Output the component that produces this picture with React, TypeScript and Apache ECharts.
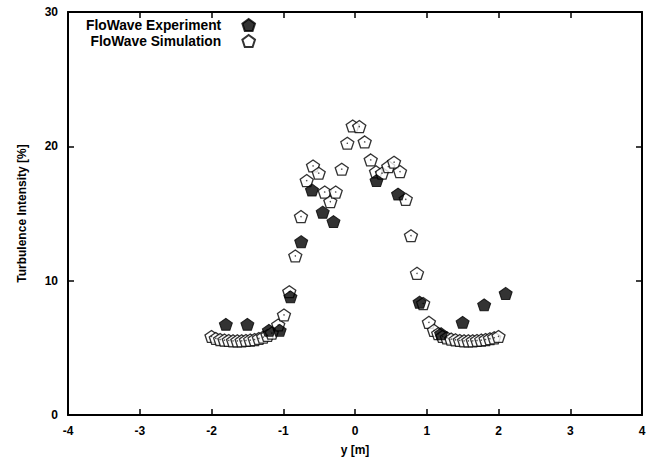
import React, { useEffect, useRef } from "react";
import * as echarts from "echarts";

const expX = [-1.8, -1.5, -1.2, -1.05, -0.9, -0.75, -0.6, -0.45, -0.3, 0.3, 0.6, 0.9, 1.2, 1.5, 1.8, 2.1];
const expY = [6.75, 6.75, 6.3, 6.3, 8.8, 12.9, 16.75, 15.1, 14.4, 17.45, 16.45, 8.4, 6.05, 6.9, 8.2, 9.05];

const simX = [
  -2.0, -1.94, -1.88, -1.82, -1.76, -1.7, -1.64, -1.58, -1.52, -1.46, -1.4, -1.34, -1.28, -1.22, -1.16,
  -1.07, -0.99, -0.916, -0.832, -0.753, -0.673, -0.585, -0.506, -0.422, -0.344, -0.269, -0.185, -0.107,
  -0.032, 0.06, 0.135, 0.219, 0.293, 0.376, 0.464, 0.544, 0.627, 0.707, 0.78, 0.864, 0.95, 1.03, 1.1,
  1.16, 1.22, 1.28, 1.34, 1.4, 1.46, 1.52, 1.58, 1.64, 1.7, 1.76, 1.82, 1.88, 1.94, 2.0,
];
const simY = [
  5.85, 5.7, 5.62, 5.58, 5.55, 5.52, 5.52, 5.52, 5.55, 5.58, 5.62, 5.7, 5.8, 5.92, 6.1,
  6.7, 7.45, 9.18, 11.84, 14.77, 17.45, 18.54, 18.0, 16.6, 15.88, 16.6, 18.3, 20.23,
  21.52, 21.47, 20.33, 18.99, 18.1, 18.0, 18.49, 18.82, 18.12, 16.06, 13.35, 10.55, 8.3, 6.9, 6.3,
  6.05, 5.85, 5.75, 5.65, 5.6, 5.55, 5.52, 5.52, 5.52, 5.55, 5.58, 5.62, 5.68, 5.75, 5.85,
];

const xTicks = { min: -4, max: 4, interval: 1 };
const yTicks = { min: 0, max: 30, interval: 10 };

const FONT = "'Liberation Sans', Arial, Helvetica, sans-serif";
const PENTA = "path://M10,0 L19.51,6.91 L15.88,18.09 L4.12,18.09 L0.49,6.91 Z";

export default function App() {
  const ref = useRef<HTMLDivElement>(null);
  useEffect(() => {
    if (!ref.current) return;
    const chart = echarts.init(ref.current, undefined, { renderer: "svg" });
    const expData = expX.map((x, i) => [x, expY[i]]);
    const simData = simX.map((x, i) => [x, simY[i]]);
    const axisLine = { show: true, onZero: false, lineStyle: { color: "#000", width: 2 } };
    const tick = { show: true, inside: true, length: 6, lineStyle: { color: "#000", width: 1.5 } };
    const label = { color: "#000", fontWeight: "bold" as const, fontSize: 12, fontFamily: FONT };
    const legendBase = {
      right: 398,
      orient: "vertical" as const,
      align: "right" as const,
      itemWidth: 13,
      itemHeight: 12,
      padding: 0,
      selectedMode: false,
      textStyle: { color: "#000", fontWeight: "bold" as const, fontSize: 13.8, fontFamily: FONT, padding: [0, 16, 0, 0] },
    };
    chart.setOption({
      animation: false,
      backgroundColor: "#fff",
      grid: { left: 68, right: 12, top: 12, bottom: 46, containLabel: false, outerBoundsMode: "none" },
      legend: [
        { ...legendBase, top: 18, data: ["FloWave Experiment"] },
        { ...legendBase, top: 34, data: ["FloWave Simulation"] },
      ],
      xAxis: [
        {
          type: "value", ...xTicks, position: "bottom",
          axisLine, axisTick: tick, splitLine: { show: false },
          axisLabel: { ...label, margin: 10 },
          name: "y [m]", nameLocation: "middle", nameGap: 29,
          nameTextStyle: { ...label },
        },
        {
          type: "value", ...xTicks, position: "top",
          axisLine, axisTick: tick, splitLine: { show: false }, axisLabel: { show: false },
        },
      ],
      yAxis: [
        {
          type: "value", ...yTicks, position: "left",
          axisLine, axisTick: tick, splitLine: { show: false },
          axisLabel: { ...label, margin: 10 },
          name: "Turbulence Intensity [%]", nameLocation: "middle", nameGap: 40,
          nameTextStyle: { ...label },
        },
        {
          type: "value", ...yTicks, position: "right",
          axisLine, axisTick: tick, splitLine: { show: false }, axisLabel: { show: false },
        },
      ],
      series: [
        {
          name: "FloWave Simulation", type: "scatter", data: simData, z: 2,
          symbol: PENTA, symbolSize: [13, 12],
          itemStyle: { color: "#fff", borderColor: "#000", borderWidth: 1.3 },
        },
        {
          name: "sim-center", type: "scatter", data: simData, z: 3,
          symbol: "circle", symbolSize: 1.5, silent: true,
          itemStyle: { color: "#222" },
        },
        {
          name: "FloWave Experiment", type: "scatter", data: expData, z: 4,
          symbol: PENTA, symbolSize: [13, 12],
          itemStyle: { color: "#000", borderColor: "#000", borderWidth: 1 },
        },
      ],
    });
    return () => chart.dispose();
  }, []);
  return <div ref={ref} style={{ width: 654, height: 461, position: "absolute", left: 0, top: 0 }} />;
}
